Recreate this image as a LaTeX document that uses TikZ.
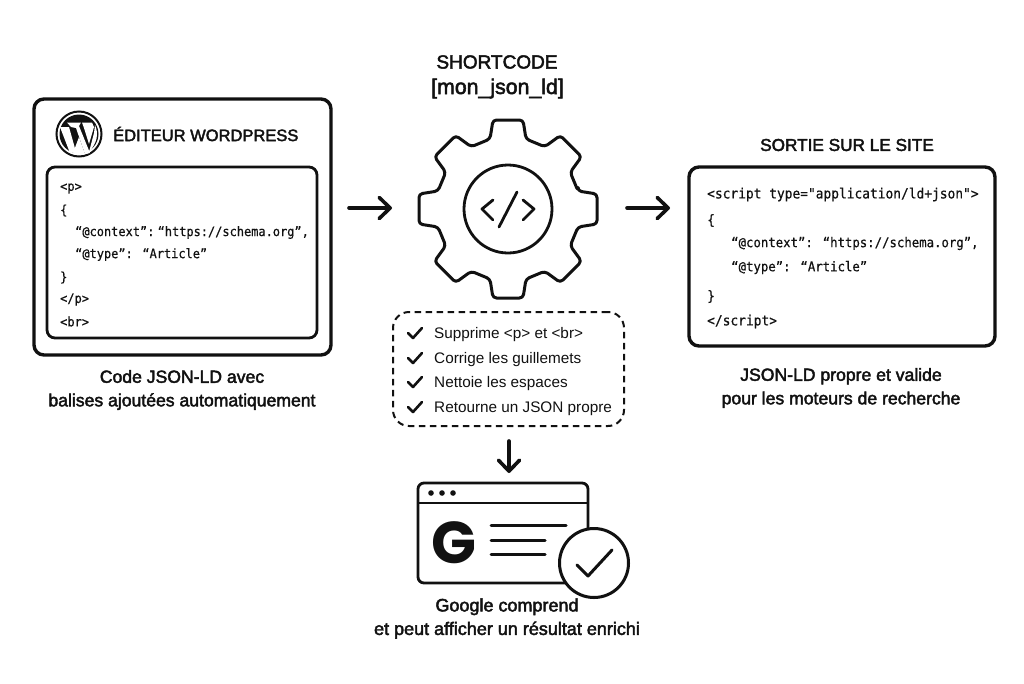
\documentclass[tikz,border=0pt]{standalone}
\usepackage{fontspec}
\usetikzlibrary{arrows.meta}
\setmainfont{Liberation Sans}
\newfontfamily\medfont[FakeBold=2.4]{Liberation Sans}
\newfontfamily\gfont{Poppins}[BoldFont=* Bold]
\newfontfamily\codefont[FakeStretch=0.92,FakeBold=0.5]{DejaVu Sans Mono}
\tikzset{
  x=1pt,y=-1pt,
  heavybox/.style={draw=ink,line width=3.4pt,rounded corners=10pt,fill=white},
  innerbox/.style={draw=ink,line width=2.8pt,rounded corners=8pt},
  dashbox/.style={draw=ink,line width=2pt,rounded corners=16pt,dash pattern=on 6.5pt off 4.5pt},
  flow/.style={draw=ink,line width=3.6pt,line cap=round,-{Straight Barb[length=11pt,width=21pt,round,line width=3.6pt]}},
  caption/.style={font=\fontsize{17.6}{23.5}\selectfont\medfont,align=center,text=ink,inner sep=0pt},
  heading/.style={font=\fontsize{16.5}{27}\selectfont\medfont,align=center,text=ink,inner sep=0pt},
  code/.style={font=\fontsize{14}{16}\selectfont\codefont,anchor=west,text=ink,inner sep=0pt},
  codeb/.style={font=\fontsize{13.4}{16}\selectfont\codefont,anchor=west,text=ink,inner sep=0pt},
  lcode/.style={font=\fontsize{13}{16}\selectfont\codefont,anchor=west,text=ink,inner sep=0pt},
  tick/.style={draw=ink,line width=2.6pt,line cap=round,line join=round},
  item/.style={font=\fontsize{15.3}{16}\selectfont,anchor=west,text=ink,inner sep=0pt},
  thick line/.style={draw=ink,line width=2.8pt,line cap=round,line join=round},
}
\definecolor{ink}{HTML}{111111}
\begin{document}
\begin{tikzpicture}
\useasboundingbox (0,0) rectangle (1024,683);
\fill[white] (0,0) rectangle (1024,683);
% left box
\node[heavybox,minimum width=297pt,minimum height=256pt,inner sep=0pt] (editor) at (182.5,227) {};
\node[innerbox,minimum width=270pt,minimum height=171pt,inner sep=0pt] (editcode) at (182,252.5) {};
% wordpress logo
\coordinate (wp) at (79,134);
\draw[ink,line width=2pt] (wp) circle (22.5);
\fill[ink] (wp) circle (19.5);
\fill[white] (60,127) -- (69,127) -- (76,152) -- (70,153) -- cycle;
\fill[white] (67,122.5) -- (81,122.5) -- (79,126) -- (90,153) -- (85,154) -- (76,128) -- (71,127) -- cycle;
\fill[white] (82,122.5) -- (92,122.5) -- (94,127) -- (89,144) -- (84,128) -- cycle;
\fill[white] (95,125) .. controls (99,134) and (97,143) .. (89,152) -- (94,133) -- cycle;
\fill[white] (73,153) -- (79,137) -- (85,154) .. controls (81,155) and (77,155) .. (73,153) -- cycle;
\node[heading,anchor=west] (edtitle) at (113,134) {ÉDITEUR WORDPRESS};
\node[lcode] (l1) at (60,188.5) {<p>};
\node[lcode] (l2) at (60,210.5) {\{};
\node[lcode] (l3) at (75,232.5) {“@context”:\hspace{.25em}“https://schema.org”,};
\node[lcode] (l4) at (75,254.5) {“@type”: “Article”};
\node[lcode] (l5) at (60,277.5) {\}};
\node[lcode] (l6) at (60,299.5) {</p>};
\node[lcode] (l7) at (60,321.5) {<br>};
\node[caption] (lcap) at (182,390) {Code JSON-LD avec\\balises ajoutées automatiquement};
% centre
\node[heading,font=\fontsize{19}{27}\selectfont\medfont] (sc) at (497,62) {SHORTCODE};
\node[heading,font=\fontsize{21.3}{27}\selectfont\medfont] (sc2) at (497.5,88.5) {[mon\_json\_ld]};
\coordinate (gear) at (508,209);
\draw[ink,line width=3pt,rounded corners=3.5pt,line join=round]
  ([shift={(gear)},rotate=0]70,-18)
  \foreach \a in {0,-45,...,-315}{
    -- ([shift={(gear)},rotate=\a]70,-18)
    -- ([shift={(gear)},rotate=\a]89,-15)
    -- ([shift={(gear)},rotate=\a]89,15)
    -- ([shift={(gear)},rotate=\a]70,18)
  } -- cycle;
\node[circle,draw=ink,line width=2.8pt,minimum size=88pt,inner sep=0pt] (hub) at (gear) {};
\draw[thick line] (493,200) -- (482,209) -- (493,220);
\draw[thick line] (523,200) -- (534,209) -- (523,220);
\draw[thick line] (517,192) -- (499,227);
% flow arrows
\coordinate (a1s) at (349,208);
\coordinate (a1e) at (392,208);
\coordinate (a2s) at (627,208);
\coordinate (a2e) at (670,208);
\coordinate (a3s) at (509,441);
\coordinate (a3e) at (509,473);
\draw[flow] (a1s) -- (a1e);
\draw[flow] (a2s) -- (a2e);
\draw[flow] (a3s) -- (a3e);
% dashed box
\node[dashbox,minimum width=231pt,minimum height=114pt,inner sep=0pt] (steps) at (508.5,369) {};
\foreach \y/\t/\n in {333/Supprime <p> et <br>/s1,358/Corrige les guillemets/s2,382/Nettoie les espaces/s3,407/Retourne un JSON propre/s4}{
  \draw[tick] (408,\y) -- (413,\y+5) -- (422,\y-5);
  \node[item] (\n) at (434,\y+1.5) {\t};
}
% browser
\draw[ink,line width=2.8pt,rounded corners=6pt] (418,483) rectangle (588,583);
\draw[ink,line width=2.4pt] (418,503) -- (588,503);
\fill[ink] (431,493) circle (2.8) (442,493) circle (2.8) (453,493) circle (2.8);
\node[font=\fontsize{59}{59}\selectfont\gfont\bfseries,text=ink,inner sep=0pt] (gg) at (454,543) {G};
\draw[ink,line width=3pt,line cap=round] (491,525) -- (566,525) (491,540) -- (545,540) (491,554) -- (545,554);
\node[circle,draw=ink,fill=white,line width=3pt,minimum size=69pt,inner sep=0pt] (ok) at (594,563) {};
\draw[ink,line width=3pt,line cap=round,line join=round] (577,565) -- (588,576) -- (612,550);
\node[caption,font=\fontsize{18}{23.5}\selectfont\medfont] (gcap) at (507,618.5) {Google comprend\\et peut afficher un résultat enrichi};
% right
\node[heading,font=\fontsize{17.2}{27}\selectfont\medfont] (outtitle) at (847,145) {SORTIE SUR LE SITE};
\node[heavybox,minimum width=306pt,minimum height=179pt,inner sep=0pt] (site) at (842,256.5) {};
\node[code] (r1) at (707,194.5) {<script type="application/ld+json">};
\node[code] (r2) at (707,220.5) {\{};
\node[codeb] (r3) at (731,243.5) {“@context”: “https://schema.org”,};
\node[codeb] (r4) at (731,267.5) {“@type”: “Article”};
\node[code] (r5) at (707,296.5) {\}};
\node[code] (r6) at (707,321.5) {</script>};
\node[caption] (rcap) at (841,388) {JSON-LD propre et valide\\pour les moteurs de recherche};
\end{tikzpicture}
\end{document}
